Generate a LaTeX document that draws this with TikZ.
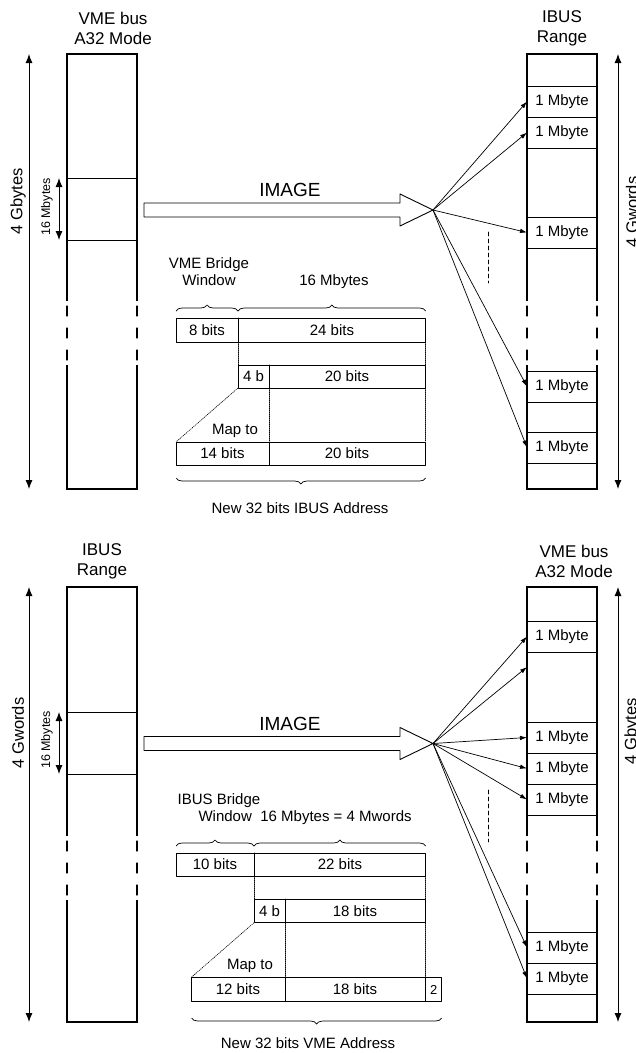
\documentclass[tikz,border=0pt]{standalone}
\usepackage{fontspec}
\setmainfont{Liberation Sans}
\usepackage{tkz-euclide}
\usetikzlibrary{arrows.meta,decorations.pathreplacing}

\begin{document}
\begin{tikzpicture}[x=1pt,y=-1pt,
  colline/.style={line width=1.3pt},
  brk/.style={line width=1.3pt,dash pattern=on 10pt off 12pt,dash phase=17pt},
  dimarrow/.style={line width=0.9pt,{Latex[length=9pt,width=7pt]}-{Latex[length=9pt,width=7pt]}},
  fan/.style={line width=0.7pt,-{Latex[length=7pt,width=4.5pt]}},
  guideline/.style={line width=0.6pt,dash pattern=on 1pt off 1pt},
  dashline/.style={line width=0.8pt,dash pattern=on 4pt off 3pt},
  brc/.style={line width=0.7pt,decorate,decoration={brace,amplitude=6pt}},
  txt/.style={font=\fontsize{15}{17}\selectfont,inner sep=0pt},
  side/.style={font=\fontsize{16.5}{19}\selectfont,inner sep=0pt,rotate=90},
  ttl/.style={font=\fontsize{17}{20}\selectfont,align=center,inner sep=0pt},
  big/.style={font=\fontsize{19}{22}\selectfont,inner sep=0pt},
  small/.style={font=\fontsize{12.5}{14}\selectfont,inner sep=0pt,rotate=90}]
\tkzSetUpLine[line width=0.9pt,color=black]
\useasboundingbox (0,0) rectangle (636,1053);

%%% upper half : VME bus -> IBUS
\tkzDefPoints{67/54/A,137/54/B,137/489/C,67/489/D,67/301/A1,67/365/A2,137/301/B1,137/365/B2}
\tkzDefPoints{67/178/W1,137/178/W2,67/240/W3,137/240/W4,29/54/G1,29/489/G2,59/178/M1,59/240/M2}
\draw[colline] (A1) -- (A) -- (B) -- (B1);
\draw[colline] (A2) -- (D) -- (C) -- (B2);
\tkzDrawSegments[brk](A1,A2 B1,B2)
\tkzDrawSegments(W1,W2 W3,W4)
\tkzDrawSegments[dimarrow](G1,G2 M1,M2)

\tkzDefPoints{527/54/E,597/54/F,597/489/G,527/489/H,527/301/E1,527/365/E2,597/301/F1,597/365/F2,618/54/N1,618/489/N2}
\draw[colline] (E1) -- (E) -- (F) -- (F1);
\draw[colline] (E2) -- (H) -- (G) -- (F2);
\tkzDrawSegments[brk](E1,E2 F1,F2)
\tkzDrawSegments[dimarrow](N1,N2)
\tkzDefPoints{527/86/K1,597/86/L1,527/117/K2,597/117/L2,527/148/K3,597/148/L3,527/217/K4,597/217/L4,527/248/K5,597/248/L5}
\tkzDefPoints{527/371/K6,597/371/L6,527/402/K7,597/402/L7,527/432/K8,597/432/L8,527/463/K9,597/463/L9}
\tkzDrawSegments(K1,L1 K2,L2 K3,L3 K4,L4 K5,L5 K6,L6 K7,L7 K8,L8 K9,L9)

% image arrow and fan
\tkzDefPoints{144/203/I1,400/203/I2,400/194/I3,433/210/O,400/226/I4,400/217/I5,144/217/I6}
\tkzDrawPolygon(I1,I2,I3,O,I4,I5,I6)
\tkzDefPoints{527/101.5/T1,527/132.5/T2,527/232.5/T3,527/386.5/T4,527/447.5/T5,488/232/Q1,488/283/Q2}
\tkzDrawSegments[fan](O,T1 O,T2 O,T3 O,T4 O,T5)
\tkzDrawSegments[dashline](Q1,Q2)

% address bits
\tkzDefPoints{176/318/R1,425.7/318/R2,425.7/342/R3,176/342/R4,238/318/R5,238/342/R6}
\tkzDefPoints{238/365/S1,425.7/365/S2,425.7/388/S3,238/388/S4,269/365/S5,269/388/S6}
\tkzDefPoints{176/442/V1,425.7/442/V2,425.7/465/V3,176/465/V4,269/442/V5,269/465/V6}
\tkzDrawPolygon(R1,R2,R3,R4)
\tkzDrawPolygon(S1,S2,S3,S4)
\tkzDrawPolygon(V1,V2,V3,V4)
\tkzDrawSegments(R5,R6 S5,S6 V5,V6)
\tkzDrawSegments[guideline](R6,S1 R3,S2 S6,V5 S3,V2 S4,V1)
\tkzDefPoints{176/311/Y1,238/311/Y2,425.7/311/Y3,176/478/Z1,425.7/478/Z2}
\draw[brc] (Y1) -- (Y2);
\draw[brc] (Y2) -- (Y3);
\draw[brc] (Z2) -- (Z1);

\node[ttl] (vmeA) at (113,28) {VME bus\\A32 Mode};
\node[ttl] (ibusA) at (562,28) {IBUS\\Range};
\node[side] (gbA) at (18,201) {4 Gbytes};
\node[small] (mbA) at (47,207) {16 Mbytes};
\node[side] (gwA) at (632,212) {4 Gwords};
\node[txt] (mA1) at (562,101.5) {1 Mbyte};
\node[txt] (mA2) at (562,132.5) {1 Mbyte};
\node[txt] (mA3) at (562,232.5) {1 Mbyte};
\node[txt] (mA4) at (562,386.5) {1 Mbyte};
\node[txt] (mA5) at (562,447.5) {1 Mbyte};
\node[big] (imgA) at (290,190) {IMAGE};
\node[txt,align=center] (winA) at (209,272) {VME Bridge\\Window};
\node[txt] (sizeA) at (334,282) {16 Mbytes};
\node[txt] (bA1) at (207,330) {8 bits};
\node[txt] (bA2) at (332,330) {24 bits};
\node[txt] (bA3) at (253.5,376.5) {4 b};
\node[txt] (bA4) at (347,376.5) {20 bits};
\node[txt] (mapA) at (235,431) {Map to};
\node[txt] (bA5) at (222.5,453.5) {14 bits};
\node[txt] (bA6) at (347,453.5) {20 bits};
\node[txt] (newA) at (300,508) {New 32 bits IBUS Address};

%%% lower half : IBUS -> VME bus
\tkzDefPoints{67/587/Ab,137/587/Bb,137/1022/Cb,67/1022/Db,67/836/A1b,67/900/A2b,137/836/B1b,137/900/B2b}
\tkzDefPoints{67/712/W1b,137/712/W2b,67/774/W3b,137/774/W4b,29/587/G1b,29/1022/G2b,59/712/M1b,59/774/M2b}
\draw[colline] (A1b) -- (Ab) -- (Bb) -- (B1b);
\draw[colline] (A2b) -- (Db) -- (Cb) -- (B2b);
\tkzDrawSegments[brk](A1b,A2b B1b,B2b)
\tkzDrawSegments(W1b,W2b W3b,W4b)
\tkzDrawSegments[dimarrow](G1b,G2b M1b,M2b)

\tkzDefPoints{527/587/Eb,597/587/Fb,597/1022/Gb,527/1022/Hb,527/836/E1b,527/900/E2b,597/836/F1b,597/900/F2b,618/587/N1b,618/1022/N2b}
\draw[colline] (E1b) -- (Eb) -- (Fb) -- (F1b);
\draw[colline] (E2b) -- (Hb) -- (Gb) -- (F2b);
\tkzDrawSegments[brk](E1b,E2b F1b,F2b)
\tkzDrawSegments[dimarrow](N1b,N2b)
\tkzDefPoints{527/621/K1b,597/621/L1b,527/652/K2b,597/652/L2b,527/722/K3b,597/722/L3b,527/753/K4b,597/753/L4b,527/784/K5b,597/784/L5b}
\tkzDefPoints{527/815/K6b,597/815/L6b,527/932/K7b,597/932/L7b,527/963/K8b,597/963/L8b,527/994/K9b,597/994/L9b}
\tkzDrawSegments(K1b,L1b K2b,L2b K3b,L3b K4b,L4b K5b,L5b K6b,L6b K7b,L7b K8b,L8b K9b,L9b)

% image arrow and fan
\tkzDefPoints{144/736.5/I1b,400/736.5/I2b,400/727.5/I3b,433/743.5/Ob,400/759.5/I4b,400/750.5/I5b,144/750.5/I6b}
\tkzDrawPolygon(I1b,I2b,I3b,Ob,I4b,I5b,I6b)
\tkzDefPoints{527/636.5/T1b,527/667/T2b,527/737.5/T3b,527/768.5/T4b,527/799.5/T5b,527/947.5/T6b,527/978.5/T7b,488/790/Q1b,488/842/Q2b}
\tkzDrawSegments[fan](Ob,T1b Ob,T2b Ob,T3b Ob,T4b Ob,T5b Ob,T6b Ob,T7b)
\tkzDrawSegments[dashline](Q1b,Q2b)

% address bits
\tkzDefPoints{176/853/R1b,425.7/853/R2b,425.7/876/R3b,176/876/R4b,254/853/R5b,254/876/R6b}
\tkzDefPoints{254/899/S1b,425.7/899/S2b,425.7/922.7/S3b,254/922.7/S4b,285/899/S5b,285/922.7/S6b}
\tkzDefPoints{191.7/977/V1b,425.7/977/V2b,425.7/1001.7/V3b,191.7/1001.7/V4b,285/977/V5b,285/1001.7/V6b,441.7/977/X1b,441.7/1001.7/X2b}
\tkzDrawPolygon(R1b,R2b,R3b,R4b)
\tkzDrawPolygon(S1b,S2b,S3b,S4b)
\tkzDrawPolygon(V1b,X1b,X2b,V4b)
\tkzDrawSegments(R5b,R6b S5b,S6b V5b,V6b V2b,V3b)
\tkzDrawSegments[guideline](R6b,S1b R3b,S2b S6b,V5b S3b,V2b S4b,V1b)
\tkzDefPoints{176/846/Y1b,254/846/Y2b,425.7/846/Y3b,191.7/1018/Z1b,441.7/1018/Z2b}
\draw[brc] (Y1b) -- (Y2b);
\draw[brc] (Y2b) -- (Y3b);
\draw[brc] (Z2b) -- (Z1b);

\node[ttl] (ibusB) at (102,561) {IBUS\\Range};
\node[ttl] (vmeB) at (574,561) {VME bus\\A32 Mode};
\node[side] (gwB) at (18,733) {4 Gwords};
\node[small] (mbB) at (47,740) {16 Mbytes};
\node[side] (gbB) at (632,731) {4 Gbytes};
\node[txt] (mB1) at (562,636.5) {1 Mbyte};
\node[txt] (mB2) at (562,737.5) {1 Mbyte};
\node[txt] (mB3) at (562,768.5) {1 Mbyte};
\node[txt] (mB4) at (562,799.5) {1 Mbyte};
\node[txt] (mB5) at (562,947.5) {1 Mbyte};
\node[txt] (mB6) at (562,978.5) {1 Mbyte};
\node[big] (imgB) at (290,724) {IMAGE};
\node[txt,align=center] (winB) at (219,808) {IBUS Bridge\\\ \ \ Window};
\node[txt] (sizeB) at (336,818) {16 Mbytes = 4 Mwords};
\node[txt] (bB1) at (215,864.5) {10 bits};
\node[txt] (bB2) at (340,864.5) {22 bits};
\node[txt] (bB3) at (269.5,911) {4 b};
\node[txt] (bB4) at (355,911) {18 bits};
\node[txt] (mapB) at (250,966) {Map to};
\node[txt] (bB5) at (238,989.5) {12 bits};
\node[txt] (bB6) at (355,989.5) {18 bits};
\node[font=\fontsize{13}{15}\selectfont,inner sep=0pt] (bB7) at (433.7,989.5) {2};
\node[txt] (newB) at (308,1043) {New 32 bits VME Address};

\end{tikzpicture}
\end{document}
